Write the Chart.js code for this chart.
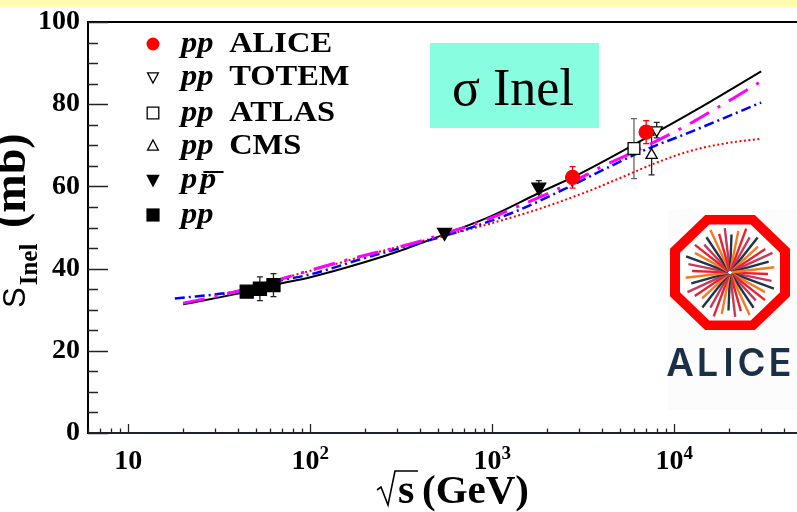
<!DOCTYPE html>
<html>
<head>
<meta charset="utf-8">
<script src="https://cdn.jsdelivr.net/npm/chart.js@4.4.1/dist/chart.umd.min.js"></script>
<style>
  html, body { margin: 0; padding: 0; background: #fff; overflow: hidden; }
  canvas { display: block; }
</style>
</head>
<body>
<canvas id="c" width="797" height="512"></canvas>
<script>
// ---------- measurements (sqrt(s) in GeV, cross section in mb) ----------
const aliceX = [2760, 7000];
const aliceY = [62.2, 73.2];
const aliceErr = [2.6, 2.8];

const totemX = [8000];
const totemY = [73.7];
const totemErr = [1.9];

const atlasX = [6000];
const atlasY = [69.2];
const atlasErr = [7.3];

const cmsX = [7500];
const cmsY = [67.6];
const cmsErr = [4.8];

const ppbarX = [546, 1800];
const ppbarY = [48.8, 59.8];
const ppbarErr = [0.8, 1.6];

const isrX = [44.7, 52.8, 62.7];
const isrY = [34.4, 35.1, 36.0];
const isrErr = [0.8, 2.9, 2.8];

// ---------- model curves ----------
const blackX = [20, 45, 63, 100, 200, 300, 550, 1000, 1800, 3000, 7000, 14000, 30000];
const blackY = [31.3, 34.4, 36.0, 37.9, 41.6, 44.1, 48.4, 52.9, 58.4, 63.0, 71.8, 79.3, 88.0];

const magentaX = [20, 28, 50, 90, 165, 384, 550, 800, 1480, 2075, 3030, 3750, 6400, 11200, 15000, 21000, 30000];
const magentaY = [31.6, 32.9, 35.6, 39.0, 42.3, 46.4, 48.6, 50.8, 55.7, 58.5, 62.0, 64.2, 69.0, 74.4, 77.6, 81.4, 85.6];

const blueX = [18, 40, 70, 100, 200, 520, 720, 1360, 2450, 3500, 7000, 11000, 30000];
const blueY = [32.7, 34.5, 37.2, 38.6, 42.6, 47.7, 49.6, 54.0, 59.2, 62.6, 69.0, 72.4, 80.4];

const redX = [33, 70, 134, 274, 400, 520, 1000, 1830, 3440, 5260, 8000, 12200, 18600, 30000];
const redY = [33.6, 37.6, 41.0, 44.8, 46.6, 47.8, 51.1, 54.6, 59.0, 62.4, 65.8, 68.6, 70.4, 71.6];

// ---------- axis labels ----------
const xTickValues = [10, 100, 1000, 10000];
const xTickExponents = ['', '2', '3', '4'];
const yTickStep = 20;

const SERIF = "'Liberation Serif', 'Times New Roman', serif";

const pts = (xs, ys) => xs.map((x, i) => ({ x: x, y: ys[i] }));

const errorGroups = [
  { x: isrX, y: isrY, err: isrErr, color: '#222' },
  { x: ppbarX, y: ppbarY, err: ppbarErr, color: '#222' },
  { x: atlasX, y: atlasY, err: atlasErr, color: '#666' },
  { x: cmsX, y: cmsY, err: cmsErr, color: '#222' },
  { x: totemX, y: totemY, err: totemErr, color: '#222' },
  { x: aliceX, y: aliceY, err: aliceErr, color: '#ff0000' }
];

function markerSet(label, xs, ys, style, radius, fill, stroke, rot) {
  return {
    label: label, data: pts(xs, ys), showLine: false,
    pointStyle: style, pointRadius: radius, pointHoverRadius: radius,
    pointBackgroundColor: fill, pointBorderColor: stroke,
    pointBorderWidth: 1.3, pointRotation: rot || 0
  };
}

function curveSet(label, xs, ys, color, width, dash) {
  return {
    label: label, data: pts(xs, ys), showLine: true,
    borderColor: color, borderWidth: width, borderDash: dash,
    pointRadius: 0, pointHoverRadius: 0, fill: false,
    cubicInterpolationMode: 'monotone', borderCapStyle: 'butt'
  };
}

// legend drawing helper
function shape(ctx, kind, x, y, r, fill, stroke) {
  ctx.save();
  ctx.beginPath();
  if (kind === 'circle') {
    ctx.arc(x, y, r, 0, Math.PI * 2);
  } else if (kind === 'square') {
    ctx.rect(x - r, y - r, 2 * r, 2 * r);
  } else if (kind === 'tri') {
    ctx.moveTo(x, y - r); ctx.lineTo(x + r * 0.9, y + r * 0.7); ctx.lineTo(x - r * 0.9, y + r * 0.7); ctx.closePath();
  } else if (kind === 'triDown') {
    ctx.moveTo(x, y + r); ctx.lineTo(x + r * 0.9, y - r * 0.7); ctx.lineTo(x - r * 0.9, y - r * 0.7); ctx.closePath();
  }
  if (fill) { ctx.fillStyle = fill; ctx.fill(); }
  if (stroke) { ctx.strokeStyle = stroke; ctx.lineWidth = 1.3; ctx.stroke(); }
  ctx.restore();
}

const decorations = {
  id: 'decorations',
  beforeDatasetsDraw(chart) {
    const ctx = chart.ctx, xs = chart.scales.x, ys = chart.scales.y;
    ctx.save();
    ctx.lineWidth = 1.3;
    errorGroups.forEach(g => {
      ctx.strokeStyle = g.color;
      g.x.forEach((xv, i) => {
        const px = xs.getPixelForValue(xv);
        const top = ys.getPixelForValue(g.y[i] + g.err[i]);
        const bot = ys.getPixelForValue(g.y[i] - g.err[i]);
        ctx.beginPath();
        ctx.moveTo(px, top); ctx.lineTo(px, bot);
        ctx.moveTo(px - 3, top); ctx.lineTo(px + 3, top);
        ctx.moveTo(px - 3, bot); ctx.lineTo(px + 3, bot);
        ctx.stroke();
      });
    });
    ctx.restore();
  },
  afterDraw(chart) {
    const ctx = chart.ctx, xs = chart.scales.x, ys = chart.scales.y;
    const area = chart.chartArea;
    ctx.save();

    // pale band along the top edge
    ctx.fillStyle = '#fefdb2';
    ctx.fillRect(0, 0, chart.width, 7);

    // top frame line
    ctx.strokeStyle = '#000';
    ctx.lineWidth = 2;
    ctx.beginPath();
    ctx.moveTo(area.left, area.top); ctx.lineTo(area.right, area.top);
    ctx.stroke();

    // inward tick marks on the y axis
    ctx.lineWidth = 1.5;
    ctx.strokeStyle = '#222';
    for (let v = 0; v <= 100; v += 5) {
      const py = Math.round(ys.getPixelForValue(v)) + 0.5;
      const len = v % yTickStep === 0 ? 20 : 10;
      ctx.beginPath();
      ctx.moveTo(area.left, py); ctx.lineTo(area.left + len, py);
      ctx.stroke();
    }

    // inward tick marks on the log x axis
    ctx.lineWidth = 1.3;
    for (let n = 0; n <= 5; n++) {
      for (let k = 1; k <= 9; k++) {
        const v = k * Math.pow(10, n);
        if (v < xs.min || v > xs.max) continue;
        const px = Math.round(xs.getPixelForValue(v)) + 0.5;
        const len = k === 1 ? 9 : 4.5;
        ctx.beginPath();
        ctx.moveTo(px, area.bottom); ctx.lineTo(px, area.bottom - len);
        ctx.stroke();
      }
    }

    // x tick labels with powers of ten
    ctx.fillStyle = '#000';
    ctx.textBaseline = 'alphabetic';
    ctx.textAlign = 'left';
    xTickValues.forEach((v, i) => {
      const px = xs.getPixelForValue(v);
      ctx.font = 'bold 28px ' + SERIF;
      const w1 = ctx.measureText('10').width;
      ctx.font = 'bold 19px ' + SERIF;
      const w2 = xTickExponents[i] ? ctx.measureText(xTickExponents[i]).width : 0;
      const x0 = px - (w1 + w2) / 2;
      ctx.font = 'bold 28px ' + SERIF;
      ctx.fillText('10', x0, 469);
      if (xTickExponents[i]) {
        ctx.font = 'bold 19px ' + SERIF;
        ctx.fillText(xTickExponents[i], x0 + w1, 459);
      }
    });

    // x axis title: sqrt(s) (GeV)
    ctx.font = 'bold 42px ' + SERIF;
    ctx.fillText('s', 398, 503);
    ctx.font = 'bold 41px ' + SERIF;
    ctx.fillText('(GeV)', 422, 503);
    ctx.lineWidth = 1.6;
    ctx.strokeStyle = '#000';
    ctx.beginPath();
    ctx.moveTo(377, 490); ctx.lineTo(381, 487); ctx.lineTo(388, 505);
    ctx.lineTo(395, 471); ctx.lineTo(418, 471);
    ctx.stroke();

    // y axis title, rotated
    ctx.save();
    ctx.translate(25, 308);
    ctx.rotate(-Math.PI / 2);
    ctx.font = '31px "Liberation Sans", Arial, sans-serif';
    ctx.fillText('S', 0, 0);
    const sW = ctx.measureText('S').width;
    ctx.font = 'bold 25px ' + SERIF;
    ctx.fillText('Inel', sW + 2, 12);
    ctx.font = 'bold 46px ' + SERIF;
    ctx.fillText('(mb)', 80, 0);
    ctx.restore();

    // legend
    const legendRows = [
      { kind: 'circle', r: 6.5, fill: '#ff0000', stroke: null, y: 44, name: 'ALICE' },
      { kind: 'triDown', r: 6, fill: '#fff', stroke: '#000', y: 77, name: 'TOTEM' },
      { kind: 'square', r: 5.8, fill: '#fff', stroke: '#000', y: 113, name: 'ATLAS' },
      { kind: 'tri', r: 6, fill: '#fff', stroke: '#000', y: 146, name: 'CMS' },
      { kind: 'triDown', r: 7.5, fill: '#000', stroke: null, y: 180, name: null, bar: true },
      { kind: 'square', r: 6.6, fill: '#000', stroke: null, y: 215, name: null }
    ];
    legendRows.forEach(row => {
      shape(ctx, row.kind, 153, row.y, row.r, row.fill, row.stroke);
      const base = row.y + 8;
      ctx.save();
      ctx.translate(181, base);
      ctx.scale(1.12, 1);
      ctx.fillStyle = '#000';
      ctx.font = 'italic bold 29px ' + SERIF;
      if (row.bar) {
        ctx.fillText('p', 0, 0);
        ctx.fillText('p', 17, 0);
        ctx.fillRect(20, -17, 18, 2);
      } else {
        ctx.fillText('pp', 0, 0);
      }
      if (row.name) {
        ctx.font = 'bold 29px ' + SERIF;
        ctx.fillText(row.name, 43, 0);
      }
      ctx.restore();
    });

    // "σ Inel" panel
    ctx.fillStyle = '#88fde0';
    ctx.fillRect(430, 43, 169, 85);
    ctx.fillStyle = '#000';
    ctx.font = '52px ' + SERIF;
    ctx.fillText('σ Inel', 452, 105);

    // ALICE logo
    ctx.fillStyle = '#fcfcfc';
    ctx.fillRect(668, 210, 129, 200);
    const cx = 730, cy = 272.5;
    const oct = (ap) => {
      const R = ap / Math.cos(Math.PI / 8);
      ctx.beginPath();
      for (let i = 0; i < 8; i++) {
        const a = Math.PI / 8 + i * Math.PI / 4;
        const px = cx + R * Math.cos(a), py = cy + R * Math.sin(a) * 0.958;
        if (i === 0) ctx.moveTo(px, py); else ctx.lineTo(px, py);
      }
      ctx.closePath();
    };
    oct(60); ctx.fillStyle = '#ff0000'; ctx.fill();
    oct(50); ctx.fillStyle = '#ffffff'; ctx.fill();
    const rayColors = ['#e8222c', '#f47b20', '#1f3349', '#c8385c'];
    ctx.lineWidth = 2.4;
    ctx.lineCap = 'butt';
    for (let i = 0; i < 40; i++) {
      const a = i * Math.PI * 2 / 40 + 0.04;
      const len = 38 + (i * 7) % 5 * 2.2;
      ctx.strokeStyle = rayColors[(i * 3) % 4];
      ctx.beginPath();
      ctx.moveTo(cx + Math.cos(a) * 2, cy + Math.sin(a) * 2);
      ctx.lineTo(cx + Math.cos(a) * len, cy + Math.sin(a) * len);
      ctx.stroke();
    }
    ctx.fillStyle = '#1b2f45';
    ctx.font = '600 38px Inter, "Open Sans", sans-serif';
    ctx.textAlign = 'center';
    [['A', 680], ['L', 707.5], ['I', 728.5], ['C', 751.5], ['E', 780]].forEach(([ch, x]) => {
      ctx.fillText(ch, x, 376);
    });

    ctx.restore();
  }
};

new Chart(document.getElementById('c').getContext('2d'), {
  type: 'scatter',
  data: {
    datasets: [
      markerSet('pp ALICE', aliceX, aliceY, 'circle', 7, '#ff0000', '#ff0000'),
      markerSet('pp TOTEM', totemX, totemY, 'triangle', 6.5, '#ffffff', '#000000', 180),
      markerSet('pp CMS', cmsX, cmsY, 'triangle', 6.5, '#ffffff', '#000000'),
      markerSet('pp ATLAS', atlasX, atlasY, 'rect', 8.3, '#ffffff', '#000000'),
      markerSet('p pbar', ppbarX, ppbarY, 'triangle', 8, '#000000', '#000000', 180),
      markerSet('pp ISR', isrX, isrY, 'rect', 9.2, '#000000', '#000000'),
      curveSet('model A', magentaX, magentaY, '#ff00ff', 3, [22, 10, 3, 10]),
      curveSet('model B', blueX, blueY, '#0000ff', 2.5, [10, 4, 2, 4]),
      curveSet('model C', redX, redY, '#ff0000', 2, [2, 2.5]),
      curveSet('model D', blackX, blackY, '#000000', 2, [])
    ]
  },
  options: {
    responsive: false,
    animation: false,
    devicePixelRatio: 1,
    events: [],
    layout: { autoPadding: false, padding: { left: 0, right: 0, top: 17, bottom: 0 } },
    plugins: { legend: { display: false }, tooltip: { enabled: false } },
    scales: {
      x: {
        type: 'logarithmic', min: 6, max: 47200,
        grid: { display: false, drawTicks: false },
        border: { display: true, color: '#1e2230', width: 2 },
        ticks: { display: false },
        afterFit(scale) { scale.height = 79; }
      },
      y: {
        min: 0, max: 100,
        grid: { display: false, drawTicks: false },
        border: { display: true, color: '#000', width: 2 },
        ticks: {
          stepSize: yTickStep, color: '#000', padding: 8,
          font: { family: SERIF, size: 28, weight: 'bold', lineHeight: 1 }
        },
        afterFit(scale) { scale.width = 88; }
      }
    }
  },
  plugins: [decorations]
});
</script>
</body>
</html>
